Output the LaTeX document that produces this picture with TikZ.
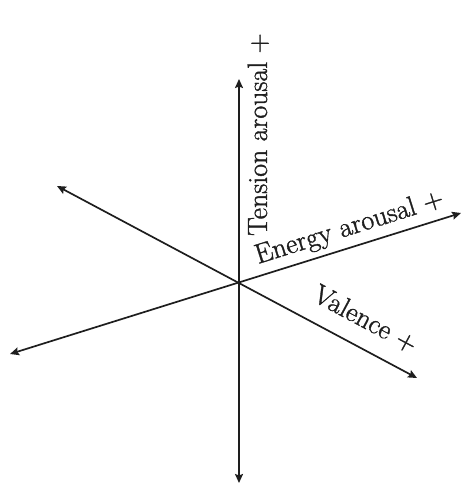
\documentclass[tikz,border=0pt]{standalone}
\usepackage{fontspec}
\newfontfamily\labfont{Latin Modern Roman}[FakeBold=1.2]
\usetikzlibrary{arrows.meta}
\definecolor{ink}{HTML}{1E1E1E}
\begin{document}
\begin{tikzpicture}[x=1bp,y=-1bp,
  axis/.style={draw=ink,line width=1.7bp,{Stealth[length=9bp,width=8bp,inset=1.5bp]}-{Stealth[length=9bp,width=8bp,inset=1.5bp]}},
  lab/.style={text=ink,inner sep=0pt,font=\labfont\fontsize{28}{30}\selectfont}]
\useasboundingbox (0,0) rectangle (462,486);
\coordinate (O) at (239,283);
\coordinate (vt) at (239,79);
\coordinate (vb) at (239,483);
\coordinate (a1) at (57,186);
\coordinate (a2) at (417,378);
\coordinate (b1) at (10,354);
\coordinate (b2) at (461,213);
\draw[axis] (vb) -- (vt);
\draw[axis] (a1) -- (a2);
\draw[axis] (b1) -- (b2);
\node[lab,rotate=90,anchor=base west] (tl) at (267,236) {Tension arousal +};
\node[lab,rotate=17.4,anchor=base west] (el) at (258,264) {Energy arousal +};
\node[lab,rotate=-28.1,anchor=base west] (vl) at (311,300) {Valence +};
\end{tikzpicture}
\end{document}
